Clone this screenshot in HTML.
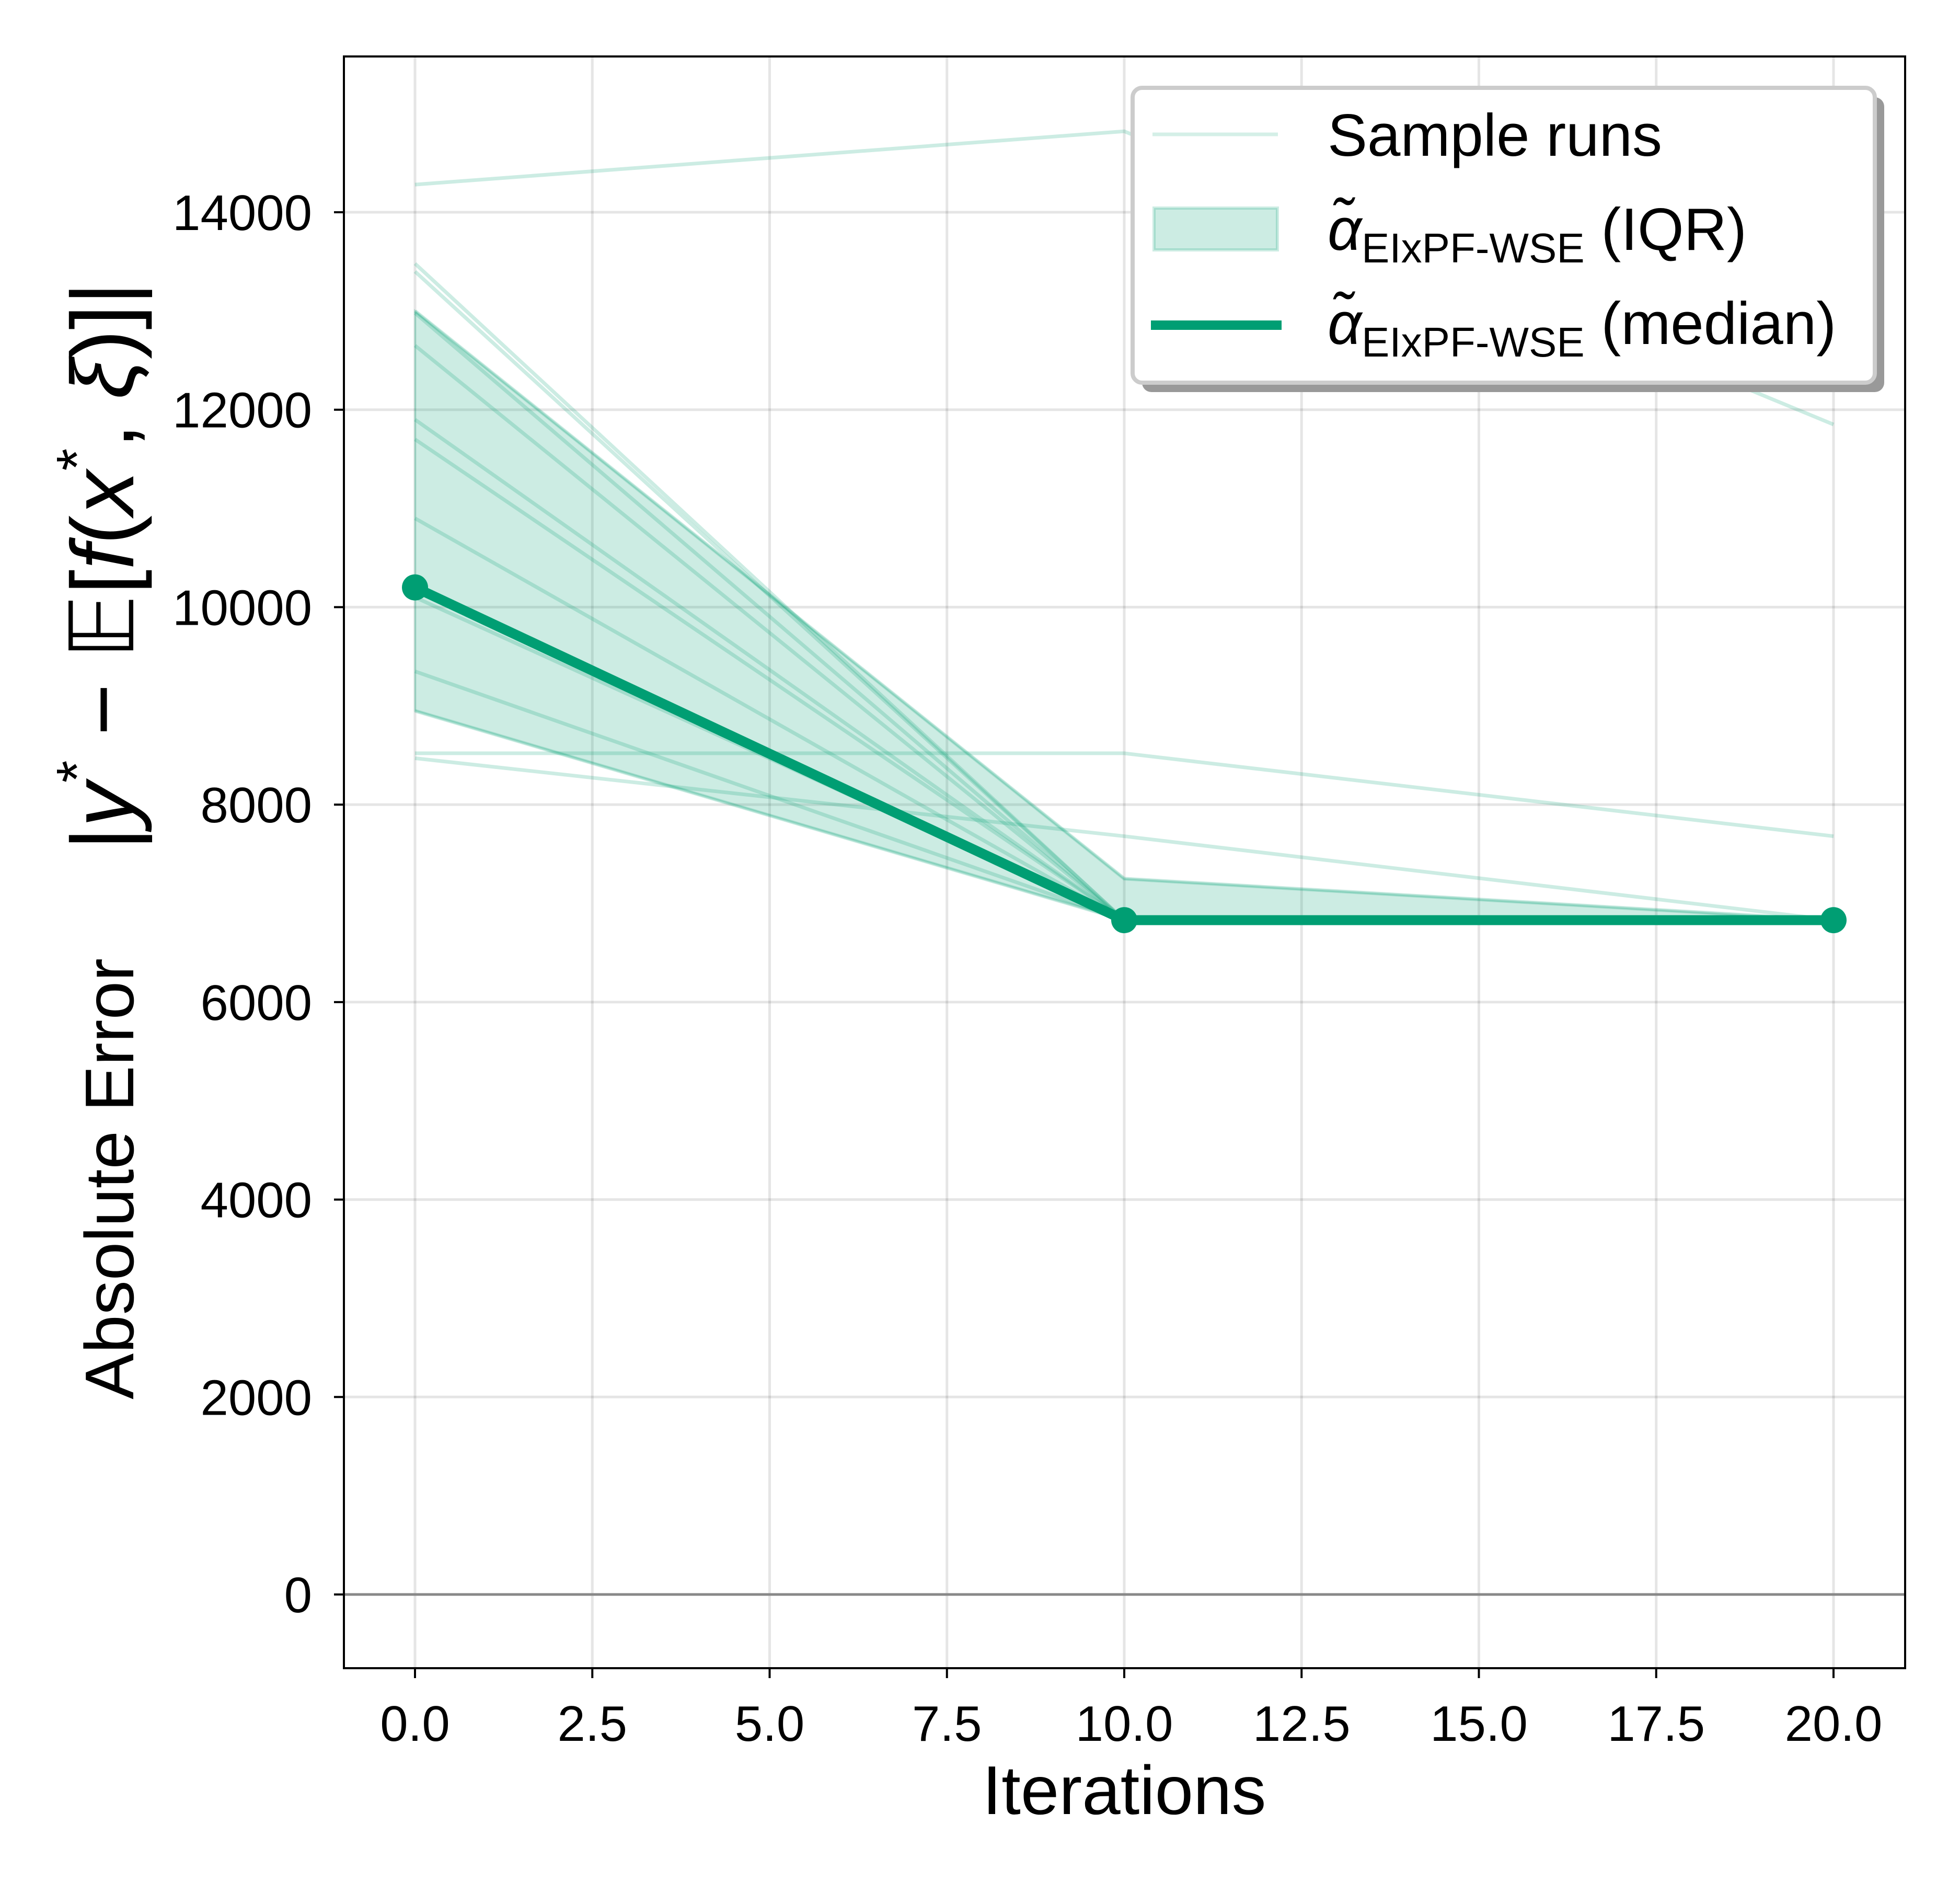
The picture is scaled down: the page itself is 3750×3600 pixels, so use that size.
<!DOCTYPE html>
<html><head><meta charset="utf-8"><style>
html,body{margin:0;padding:0;background:#fff}
svg{display:block;font-family:"Liberation Sans",sans-serif}
</style></head><body>
<svg id="chart" width="3750" height="3600" viewBox="0 0 3750 3600" xmlns="http://www.w3.org/2000/svg">
<g id="grid"></g>
<g id="plot"></g>
<rect x="658" y="108" width="2987" height="3083" fill="none" stroke="#000" stroke-width="4"/>
<g id="ticks"></g>
<text x="2151" y="3470" font-size="132" text-anchor="middle">Iterations</text>
<text transform="translate(255,1608) rotate(-90)" font-size="132" text-anchor="middle">Absolute Error <tspan dx="170" font-size="170">|</tspan><tspan font-size="170" font-style="italic">y</tspan><tspan dy="-70" font-size="110">*</tspan><tspan dy="70" font-size="170"> − 𝔼[</tspan><tspan font-size="170" font-style="italic">f</tspan><tspan font-size="170">(</tspan><tspan font-size="170" font-style="italic">x</tspan><tspan dy="-70" font-size="110">*</tspan><tspan dy="70" font-size="170">, </tspan><tspan font-size="170" font-style="italic">ξ</tspan><tspan font-size="170">)]|</tspan></text>
<g>
<rect x="2185" y="186" width="1420" height="564" rx="18" fill="#999"/>
<rect x="2167" y="168" width="1420" height="564" rx="18" fill="#fff" stroke="#ccc" stroke-width="8"/>
<line x1="2205" y1="257" x2="2445" y2="257" stroke="#009E73" stroke-opacity="0.17" stroke-width="7"/>
<text x="2540" y="298" font-size="114">Sample runs</text>
<rect x="2208" y="398" width="236" height="80" fill="#009E73" fill-opacity="0.2" stroke="#009E73" stroke-opacity="0.2" stroke-width="6"/>
<text x="2540" y="478" font-size="114"><tspan font-style="italic">α̃</tspan><tspan font-size="80" dy="24">EIxPF-WSE</tspan><tspan dy="-24"> (IQR)</tspan></text>
<line x1="2202" y1="622" x2="2452" y2="622" stroke="#009E73" stroke-width="18"/>
<text x="2540" y="658" font-size="114"><tspan font-style="italic">α̃</tspan><tspan font-size="80" dy="24">EIxPF-WSE</tspan><tspan dy="-24"> (median)</tspan></text>
</g>
</svg>
<script>
const iterations=[0,10,20];
const runs=[[14280,14820,11850],[13480,6830,6830],[13400,6830,6830],[13000,7250,6830],[12980,6830,6830],[12650,6830,6830],[11900,6830,6830],[11700,6830,6830],[10900,6830,6830],[10100,6830,6830],[9350,6830,6830],[8950,6830,6830],[8520,8520,7680],[8470,7680,6830]];
const iqrLow=[8950,6830,6830];
const iqrHigh=[13000,7250,6830];
const median=[10200,6830,6830];
const xTicks=[0,2.5,5,7.5,10,12.5,15,17.5,20];
const yTicks=[0,2000,4000,6000,8000,10000,12000,14000];
const NS="http://www.w3.org/2000/svg";
function X(v){return 794+(v-0)*(3508-794)/20;}
function Y(v){return 3050-v*(3050-406)/14000;}
function mk(tag,attrs,parent){const e=document.createElementNS(NS,tag);for(const k in attrs)e.setAttribute(k,attrs[k]);parent.appendChild(e);return e;}
const grid=document.getElementById('grid'),plot=document.getElementById('plot'),ticks=document.getElementById('ticks');
xTicks.forEach(t=>{
 const g=mk('line',{x1:X(t),x2:X(t),y1:108,y2:3191,stroke:'#000','stroke-opacity':0.1,'stroke-width':5},grid);
 
 
 const tk=mk('line',{x1:X(t),x2:X(t),y1:3191,y2:3210,stroke:'#000','stroke-width':4},ticks);
 
 
 const lb=mk('text',{x:X(t),y:3330,'font-size':96,'text-anchor':'middle'},ticks);
 lb.textContent=t.toFixed(1);
 
 
});
yTicks.forEach(t=>{
 const g=mk('line',{x1:658,x2:3645,y1:Y(t),y2:Y(t),stroke:'#000','stroke-opacity':0.1,'stroke-width':5},grid);
 
 
 const tk=mk('line',{x1:639,x2:658,y1:Y(t),y2:Y(t),stroke:'#000','stroke-width':4},ticks);
 
 
 const lb=mk('text',{x:597,y:Y(t)+34,'font-size':96,'text-anchor':'end'},ticks);
 lb.textContent=t;
 
 
});
const zero=mk('line',{x1:658,x2:3645,y1:Y(0),y2:Y(0),stroke:'#888','stroke-width':5},plot);


let pts=iterations.map((x,i)=>X(x)+','+Y(iqrHigh[i]));
for(let i=iterations.length-1;i>=0;i--)pts.push(X(iterations[i])+','+Y(iqrLow[i]));
const band=mk('polygon',{points:pts.join(' '),fill:'#009E73','fill-opacity':0.2,stroke:'#009E73','stroke-opacity':0.2,'stroke-width':4},plot);


runs.forEach(r=>{
 const l=mk('polyline',{points:r.map((v,i)=>X(iterations[i])+','+Y(v)).join(' '),fill:'none',stroke:'#009E73','stroke-opacity':0.2,'stroke-width':7},plot);
 
 
});
const ml=mk('polyline',{points:median.map((v,i)=>X(iterations[i])+','+Y(v)).join(' '),fill:'none',stroke:'#009E73','stroke-width':19},plot);


median.forEach((v,i)=>{
 const c=mk('circle',{cx:X(iterations[i]),cy:Y(v),r:25,fill:'#009E73'},plot);
 
 
});
</script>
</body></html>
